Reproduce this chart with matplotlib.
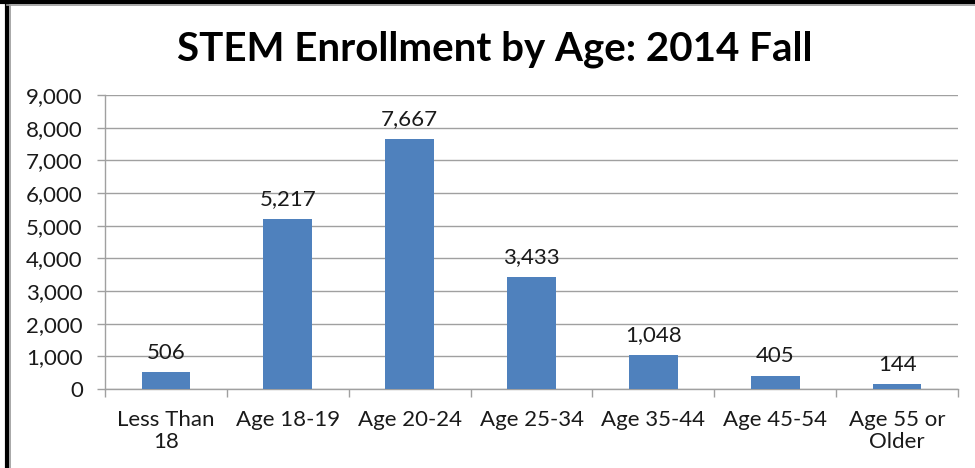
import matplotlib.pyplot as plt
from matplotlib.lines import Line2D
from matplotlib.ticker import FuncFormatter, MultipleLocator
import numpy as np

categories = ["Less Than\n18", "Age 18-19", "Age 20-24", "Age 25-34",
              "Age 35-44", "Age 45-54", "Age 55 or\nOlder"]
enrollment = [506, 5217, 7667, 3433, 1048, 405, 144]

plt.rcParams['font.family'] = ['Lato', 'DejaVu Sans']

W, H = 975, 468
fig = plt.figure(figsize=(W / 100, H / 100), dpi=100)
ax = fig.add_axes([105 / W, 1 - 389 / H, (958 - 105) / W, (389 - 95) / H])

x = np.arange(len(categories))
ax.bar(x, enrollment, width=0.4, color='#4F81BD', zorder=3)

for xi, v in zip(x, enrollment):
    ax.annotate(f"{v:,}", (xi, v), xytext=(0, 7), textcoords='offset points',
                ha='center', va='bottom', fontsize=16, color='#1a1a1a')

ax.set_xlim(-0.5, len(categories) - 0.5)
ax.set_ylim(0, 9000)
ax.yaxis.set_major_locator(MultipleLocator(1000))
ax.yaxis.set_major_formatter(FuncFormatter(lambda v, _: f"{int(v):,}"))
ax.grid(axis='y', color='#A0A0A0', linewidth=1, zorder=0)

# category labels in the middle, tick marks on the boundaries
ax.set_xticks(x)
ax.set_xticklabels(categories, fontsize=16, color='#1a1a1a', linespacing=1.15)
ax.set_xticks(np.arange(len(categories) + 1) - 0.5, minor=True)
ax.tick_params(axis='x', which='major', length=0, pad=15)
ax.tick_params(axis='x', which='minor', length=6, color='#A0A0A0', width=1)
ax.tick_params(axis='y', length=6, color='#A0A0A0', width=1, pad=10,
               labelsize=16, labelcolor='#1a1a1a')

for side in ('top', 'right'):
    ax.spines[side].set_visible(False)
for side in ('left', 'bottom'):
    ax.spines[side].set_color('#A0A0A0')
    ax.spines[side].set_linewidth(1)

fig.text(495 / W, 1 - 49 / H, "STEM Enrollment by Age: 2014 Fall",
         ha='center', va='center', fontsize=29, fontweight='bold', color='black')

# chart frame on the left and top edges
fig.add_artist(Line2D([7 / W, 7 / W], [0, 1], transform=fig.transFigure,
                      color='black', linewidth=3))
fig.add_artist(Line2D([10 / W, 10 / W], [0, 1 - 5 / H], transform=fig.transFigure,
                      color='#9a9a9a', linewidth=1.2))
fig.add_artist(Line2D([0, 1], [1 - 2 / H, 1 - 2 / H], transform=fig.transFigure,
                      color='black', linewidth=3))
fig.add_artist(Line2D([7 / W, 1], [1 - 5 / H, 1 - 5 / H], transform=fig.transFigure,
                      color='#9a9a9a', linewidth=1.2))

fig.savefig("out.png", dpi=100)
